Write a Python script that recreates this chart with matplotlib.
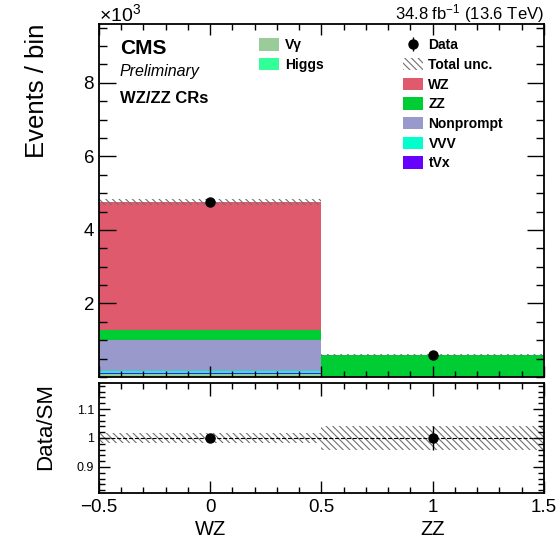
import numpy as np
import matplotlib
matplotlib.use('Agg')
import matplotlib.pyplot as plt
from matplotlib.ticker import MultipleLocator, FixedLocator, FuncFormatter
from matplotlib.patches import Patch

plt.rcParams['font.family'] = ['Liberation Sans', 'DejaVu Sans']
plt.rcParams['mathtext.fontset'] = 'custom'
plt.rcParams['mathtext.rm'] = 'Liberation Sans'
plt.rcParams['mathtext.it'] = 'Liberation Sans:italic'
plt.rcParams['mathtext.bf'] = 'Liberation Sans:bold'
plt.rcParams['hatch.linewidth'] = 0.8

# control-region bins
regions = ['WZ', 'ZZ']
xpos = np.array([0, 1])

# expected events per process, stacked bottom -> top
vgamma = np.array([80., 3.])
higgs = np.array([5., 2.])
tvx = np.array([30., 3.])
vvv = np.array([50., 5.])
nonprompt = np.array([840., 10.])
zz = np.array([270., 570.])
wz = np.array([3485., 7.])

data = np.array([4760., 600.])
tot_unc = np.array([80., 25.])

procs = [('Vγ', vgamma, '#99cc99'),
         ('Higgs', higgs, '#33ff99'),
         ('tVx', tvx, '#6600ff'),
         ('VVV', vvv, '#00ffcc'),
         ('Nonprompt', nonprompt, '#9999cc'),
         ('ZZ', zz, '#00cc33'),
         ('WZ', wz, '#e05a6e')]

scale = 1e3
total = sum(p[1] for p in procs)

fig = plt.figure(figsize=(5.56, 5.42), dpi=100)
ax1 = fig.add_axes([0.178, 0.3044, 0.800, 0.6513])
ax2 = fig.add_axes([0.178, 0.0904, 0.800, 0.2030])

# stacked expectation
bars = {}
bottom = np.zeros(2)
for name, vals, col in procs:
    bars[name] = ax1.bar(xpos, vals / scale, width=1.0, bottom=bottom / scale,
                         color=col, linewidth=0, label=name, zorder=1)
    bottom = bottom + vals

hatch = '\\' * 5
hcol = '#707070'
unc_band = ax1.bar(xpos, 2 * tot_unc / scale, width=1.0, bottom=(total - tot_unc) / scale,
                   fill=False, hatch=hatch, edgecolor=hcol, linewidth=0, zorder=2)
dat = ax1.errorbar(xpos, data / scale, yerr=np.sqrt(data) / scale, fmt='o', color='k',
                   ms=6.5, elinewidth=1.0, capsize=0, zorder=3, label='Data')

ax1.set_xlim(-0.5, 1.5)
ax1.set_ylim(0, 9.6)
ax1.xaxis.set_major_locator(MultipleLocator(0.5))
ax1.xaxis.set_minor_locator(MultipleLocator(0.1))
ax1.set_yticks([2, 4, 6, 8])
ax1.yaxis.set_minor_locator(MultipleLocator(0.5))
ax1.tick_params(axis='x', which='major', labelbottom=False, length=8)
ax1.tick_params(axis='x', which='minor', length=4)
ax1.tick_params(axis='y', which='major', length=12, labelsize=13.5)
ax1.tick_params(axis='y', which='minor', length=6)
ax1.tick_params(which='both', direction='in', top=True, right=True, width=1.0)
ax1.set_ylabel('Events / bin', fontsize=18.5, loc='top')
ax1.yaxis.set_label_coords(-0.113, 1.0)

ax1.text(0.0, 1.0085, '×10$^{3}$', transform=ax1.transAxes, fontsize=14, va='baseline', ha='left')
ax1.text(1.0, 1.0127, '34.8 fb$^{-1}$ (13.6 TeV)', transform=ax1.transAxes, fontsize=12,
         va='baseline', ha='right')
ax1.text(0.047, 0.915, 'CMS', transform=ax1.transAxes, fontsize=15, fontweight='bold', va='baseline')
ax1.text(0.047, 0.853, 'Preliminary', transform=ax1.transAxes, fontsize=11.5, style='italic', va='baseline')
ax1.text(0.047, 0.776, 'WZ/ZZ CRs', transform=ax1.transAxes, fontsize=12, fontweight='bold', va='baseline')

unc_patch = Patch(facecolor='none', edgecolor=hcol, hatch=hatch, linewidth=0)
leg_kw = dict(frameon=False, loc='upper left', borderpad=0, borderaxespad=0,
              handlelength=1.45, handleheight=1.0, labelspacing=0.41, handletextpad=0.4,
              prop={'weight': 'bold', 'size': 10})
leg_r = ax1.legend([dat, unc_patch, bars['WZ'], bars['ZZ'], bars['Nonprompt'], bars['VVV'], bars['tVx']],
                   ['Data', 'Total unc.', 'WZ', 'ZZ', 'Nonprompt', 'VVV', 'tVx'],
                   bbox_to_anchor=(0.683, 0.960), **leg_kw)
ax1.add_artist(leg_r)
ax1.legend([bars['Vγ'], bars['Higgs']], ['Vγ', 'Higgs'], bbox_to_anchor=(0.36, 0.960), **leg_kw)

# ratio panel
ax2.bar(xpos, 2 * tot_unc / total, width=1.0, bottom=1 - tot_unc / total,
        fill=False, hatch=hatch, edgecolor=hcol, linewidth=0, zorder=1)
ax2.axhline(1.0, color='k', ls='--', lw=0.8, zorder=2)
ax2.errorbar(xpos, data / total, yerr=np.sqrt(data) / total, fmt='o', color='k',
             ms=6.5, elinewidth=1.0, capsize=0, zorder=3)
ax2.set_xlim(-0.5, 1.5)
ax2.set_ylim(0.81, 1.19)
ax2.xaxis.set_major_locator(MultipleLocator(0.5))
ax2.xaxis.set_minor_locator(MultipleLocator(0.1))
ax2.yaxis.set_major_locator(FixedLocator([0.9, 1.0, 1.1]))
ax2.yaxis.set_minor_locator(MultipleLocator(0.02))
fmt = FuncFormatter(lambda v, p: ('%g' % round(v, 3)).replace('-', '\u2212'))
ax2.xaxis.set_major_formatter(fmt)
ax2.yaxis.set_major_formatter(fmt)
ax2.tick_params(axis='x', which='major', length=9, labelsize=13.5, pad=4)
ax2.tick_params(axis='x', which='minor', length=4.5)
ax2.tick_params(axis='y', which='major', length=8, labelsize=9)
ax2.tick_params(axis='y', which='minor', length=4)
ax2.tick_params(which='both', direction='in', top=True, right=True, width=1.0)
ax2.set_ylabel('Data/SM', fontsize=16, loc='top')
ax2.yaxis.set_label_coords(-0.097, 1.0)
for xi, reg in zip(xpos, regions):
    ax2.text(xi, -0.33, reg, transform=ax2.get_xaxis_transform(), fontsize=14.5,
             ha='center', va='center')

for ax in (ax1, ax2):
    for sp in ax.spines.values():
        sp.set_linewidth(1.3)

fig.savefig('out.png', dpi=100)
